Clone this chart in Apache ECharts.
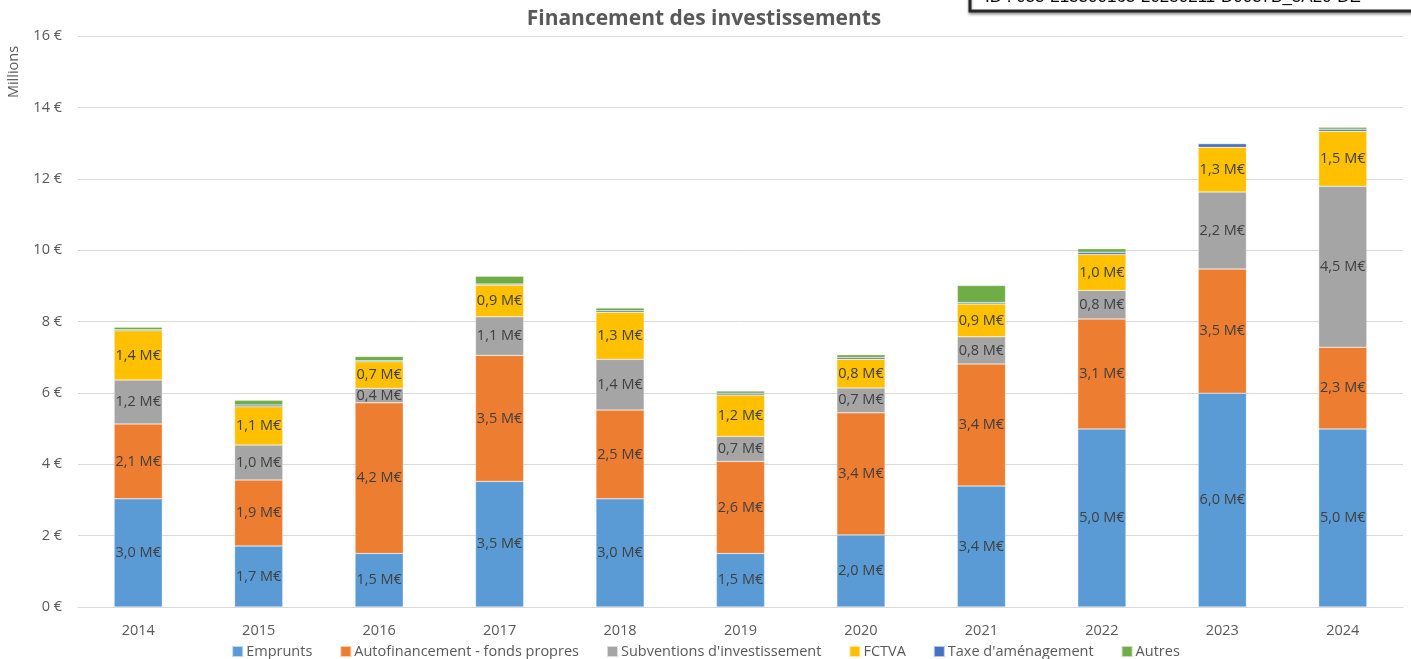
<!DOCTYPE html>
<html>
<head>
<meta charset="utf-8">
<title>Financement des investissements</title>
<script src="https://cdn.jsdelivr.net/npm/echarts@6/dist/echarts.min.js"></script>
<style>
  html, body { margin: 0; padding: 0; background: #fff; }
  #chart { width: 1411px; height: 659px; }
</style>
</head>
<body>
<div id="chart"></div>
<script>
// annees
const years = ['2014', '2015', '2016', '2017', '2018', '2019', '2020', '2021', '2022', '2023', '2024']

// montants en millions d'euros
const emprunts      = [3.03, 1.71, 1.50, 3.52, 3.03, 1.50, 2.02, 3.39, 4.99, 5.99, 4.99]
const autofinance   = [2.10, 1.85, 4.22, 3.53, 2.49, 2.58, 3.42, 3.42, 3.08, 3.48, 2.29]
const subventions   = [1.23, 0.98, 0.41, 1.08, 1.42, 0.70, 0.70, 0.76, 0.80, 2.16, 4.51]
const fctva         = [1.38, 1.07, 0.74, 0.89, 1.32, 1.16, 0.80, 0.92, 1.01, 1.25, 1.54]
const taxeAmenag    = [0.03, 0.05, 0.03, 0.03, 0.04, 0.05, 0.05, 0.04, 0.06, 0.10, 0.06]
const autres        = [0.07, 0.13, 0.12, 0.22, 0.08, 0.06, 0.08, 0.48, 0.10, 0.02, 0.05]

const yTicks = [0, 2, 4, 6, 8, 10, 12, 14, 16]

const font = '"Open Sans", "Noto Sans", sans-serif'
const grey = '#595959'

function fmt (v) {
  return v.toFixed(1).replace('.', ',') + ' M€'
}

function serie (name, data, color, withLabel) {
  return {
    name: name,
    type: 'bar',
    stack: 'total',
    barWidth: '40%',
    data: data,
    itemStyle: { color: color, borderColor: 'rgba(255,255,255,0.6)', borderWidth: 0.5 },
    label: {
      show: withLabel,
      position: 'inside',
      color: '#404040',
      fontFamily: font,
      fontSize: 14.5,
      formatter: p => fmt(p.value)
    },
    emphasis: { disabled: true }
  }
}

let chart = echarts.init(document.getElementById('chart'))
let option = {
  animation: false,
  title: {
    text: 'Financement des investissements',
    left: 699,
    textAlign: 'center',
    top: 4,
    textStyle: { fontFamily: font, fontSize: 21, fontWeight: 'bold', color: grey }
  },
  grid: { left: 78, right: 8, top: 36, bottom: 52, containLabel: false },
  legend: {
    top: 639,
    left: 'center',
    icon: 'rect',
    itemWidth: 11,
    itemHeight: 11,
    itemGap: 27,
    textStyle: { fontFamily: font, fontSize: 14.5, color: grey, padding: [0, 0, 0, -2] }
  },
  xAxis: {
    type: 'category',
    data: years,
    axisLine: { lineStyle: { color: '#d9d9d9' } },
    axisTick: { show: false },
    axisLabel: { color: grey, fontFamily: font, fontSize: 14.5, margin: 16 }
  },
  yAxis: {
    type: 'value',
    min: yTicks[0],
    max: yTicks[yTicks.length - 1],
    interval: 2,
    axisLine: { show: false },
    axisTick: { show: false },
    splitLine: { lineStyle: { color: '#d9d9d9', width: 1 } },
    axisLabel: { color: grey, fontFamily: font, fontSize: 14.5, margin: 16, formatter: v => v + ' €' }
  },
  graphic: [
    {
      type: 'text',
      x: 14,
      y: 72,
      rotation: Math.PI / 2,
      style: { text: 'Millions', fontFamily: font, fontSize: 14.5, fill: grey, align: 'center', verticalAlign: 'middle' }
    },
    {
      type: 'rect',
      shape: { x: 970, y: -30, width: 470, height: 41 },
      style: { fill: '#fff', stroke: '#262626', lineWidth: 3, shadowColor: 'rgba(0,0,0,0.35)', shadowBlur: 3, shadowOffsetY: 2 }
    },
    {
      type: 'text',
      x: 985,
      y: 6,
      style: { text: 'ID : 033-213300163-20250211-D0037B_5A20-DE', fontFamily: 'Liberation Sans, Arial', fontSize: 17, fill: '#000', align: 'left', verticalAlign: 'bottom' }
    }
  ],
  series: [
    serie('Emprunts', emprunts, '#5B9BD5', true),
    serie('Autofinancement - fonds propres', autofinance, '#ED7D31', true),
    serie("Subventions d'investissement", subventions, '#A5A5A5', true),
    serie('FCTVA', fctva, '#FFC000', true),
    serie("Taxe d'aménagement", taxeAmenag, '#4472C4', false),
    serie('Autres', autres, '#70AD47', false)
  ]
}
chart.setOption(option)
</script>
</body>
</html>
